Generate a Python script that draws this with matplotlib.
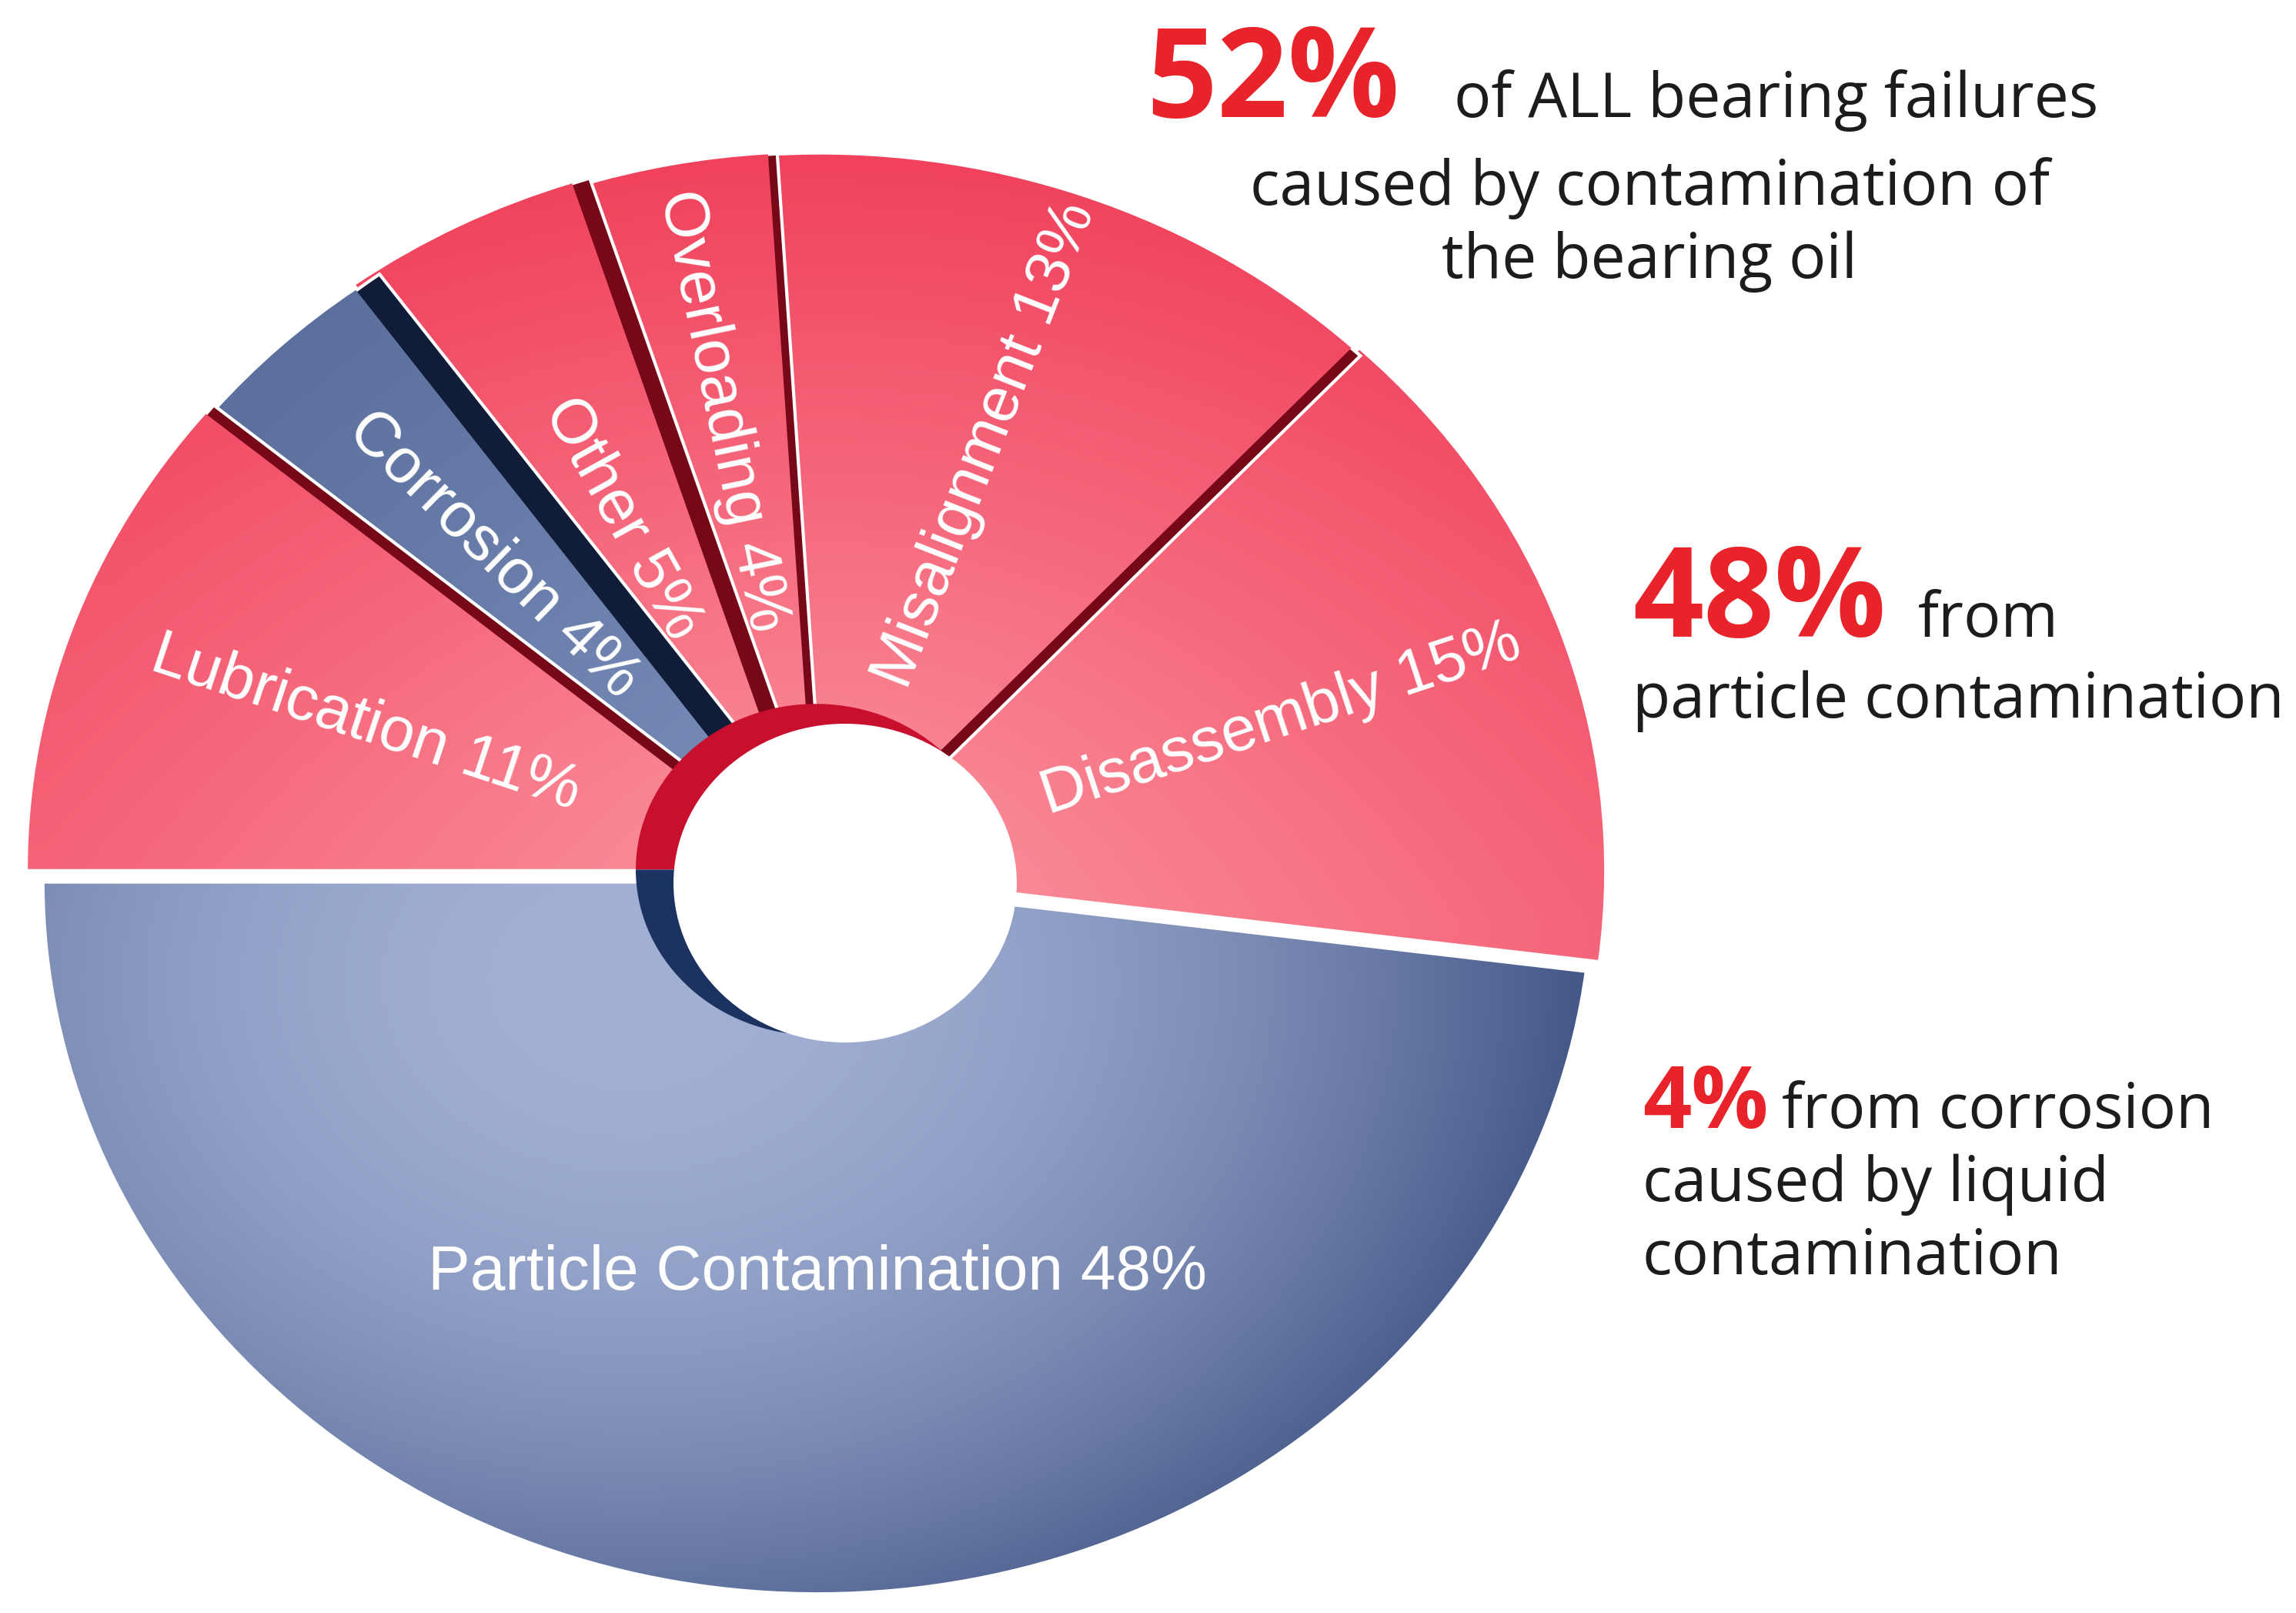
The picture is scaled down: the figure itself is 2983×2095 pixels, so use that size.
import numpy as np
import matplotlib.pyplot as plt
from matplotlib import transforms
from matplotlib.patches import Wedge, Ellipse

# ---- data -------------------------------------------------------------
causes = ['Particle Contamination', 'Disassembly', 'Misalignment',
          'Overloading', 'Other', 'Corrosion', 'Lubrication']
shares = [48, 15, 13, 4, 5, 4, 11]
groups = ['blue', 'red', 'red', 'red', 'red', 'corr', 'red']

# ---- per wedge styling -------------------------------------------------
explode = [10, 14, 8, 10, 18, 12, 20]
side = [0, 0, 16, 12, 24, 38, 16]
label_frac = [0.55, 0.62, 0.63, 0.65, 0.54, 0.60, 0.60]
label_nudge = [3.5, 0, 0, 0, 0, 0, 0]     # degrees
radial = [False, True, True, True, True, True, True]

W, H = 2983, 2095
fig = plt.figure(figsize=(W / 100, H / 100), dpi=100)
ax = fig.add_axes([0, 0, 1, 1])
ax.set_xlim(0, W)
ax.set_ylim(0, H)
ax.axis('off')

cx, cy = 1063, 960
R = 1008
squash = 0.92
tilt = transforms.Affine2D().translate(-cx, -cy).scale(1, squash).translate(cx, cy) + ax.transData


def mix(c0, c1, t):
    c0 = np.array(c0) / 255.0
    c1 = np.array(c1) / 255.0
    return c0 * (1 - t[..., None]) + c1 * t[..., None]


# gradient fills (half resolution is plenty)
gx = np.linspace(0, W, W // 2)
gy = np.linspace(0, H, H // 2)
X, Y = np.meshgrid(gx, gy)
rr = np.clip(np.hypot(X - cx, (Y - cy) / squash) / R, 0, 1)

t_red = np.clip(0.55 * rr + 0.45 * np.clip((Y - 900) / 1100, 0, 1), 0, 1)
t_blue = np.clip(np.hypot(X - 820, (Y - 820) * 1.3) / 1250, 0, 1) ** 2
images = {
    'red': mix((251, 150, 160), (240, 62, 90), t_red),
    'blue': mix((162, 176, 212), (66, 86, 134), t_blue),
    'corr': mix((124, 144, 188), (92, 112, 158), rr),
}
side_color = {'red': '#760818', 'blue': '#14213f', 'corr': '#101c38'}

angle = 180.0
for i, share in enumerate(shares):
    t1 = angle
    t2 = angle + share * 3.6
    angle = t2
    mid = np.radians((t1 + t2) / 2)
    ox = cx + explode[i] * np.cos(mid)
    oy = cy + explode[i] * np.sin(mid)
    z = 2 + 0.1 * i

    if side[i] > 0:
        n = np.radians(t1 - 90)
        sw = Wedge((ox + side[i] * np.cos(n), oy + side[i] * np.sin(n)), R, t1, t2,
                   transform=tilt, facecolor=side_color[groups[i]],
                   edgecolor='white', lw=3, zorder=z)
        ax.add_patch(sw)

    w = Wedge((ox, oy), R, t1, t2, transform=tilt, facecolor='none', lw=0, zorder=z + 0.05)
    ax.add_patch(w)
    im = ax.imshow(images[groups[i]], extent=[0, W, 0, H], origin='lower',
                   aspect='auto', zorder=z + 0.05, interpolation='bilinear')
    im.set_clip_path(w)

    if i == 0:
        # white seams along the big slice
        ax.add_patch(Wedge((ox, oy), R, t1, t2, transform=tilt, facecolor='none',
                           edgecolor='white', lw=5, zorder=3))

    # label
    la = mid + np.radians(label_nudge[i])
    lr = label_frac[i] * R + explode[i]
    lx = cx + lr * np.cos(la)
    ly = cy + squash * lr * np.sin(la)
    if radial[i]:
        rot = np.degrees(np.arctan2(squash * np.sin(la), np.cos(la)))
        if np.cos(la) < 0:
            rot -= 180
    else:
        rot = 0
    ax.text(lx, ly, '%s %d%%' % (causes[i], share), color='white',
            family='Liberation Sans', fontsize=59, ha='center', va='center',
            rotation=rot, rotation_mode='anchor', zorder=6)

# inner wall + hole
end_particle = 180 + shares[0] * 3.6
ax.add_patch(Wedge((1060, 966), 234, end_particle - 360, 180, transform=tilt,
                   facecolor='#c8102e', lw=0, zorder=4))
ax.add_patch(Wedge((1060, 966), 234, 180, end_particle, transform=tilt,
                   facecolor='#1c3260', lw=0, zorder=4))
ax.add_patch(Ellipse((1098, 948), 446, 414, facecolor='white', lw=0, zorder=5))

# ---- side notes --------------------------------------------------------
red = '#e8232a'
ink = '#1c1c1c'
note = dict(family='Open Sans', fontsize=58, color=ink, va='baseline')
big = dict(family='Open Sans', fontweight='bold', color=red, va='baseline')

ax.text(1489, 1943, '52%', fontsize=116, **big)
ax.text(1889, 1943, 'of ALL bearing failures', ha='left', **note)
ax.text(2143, 1829, 'caused by contamination of', ha='center', **note)
ax.text(2143, 1734, 'the bearing oil', ha='center', **note)

ax.text(2121, 1268, '48%', fontsize=116, **big)
ax.text(2492, 1268, 'from', ha='left', **note)
ax.text(2121, 1163, 'particle contamination', ha='left', **note)

ax.text(2134, 630, '4%', fontsize=80, **big)
ax.text(2315, 630, 'from corrosion', ha='left', **note)
ax.text(2134, 535, 'caused by liquid', ha='left', **note)
ax.text(2134, 440, 'contamination', ha='left', **note)

fig.savefig('out.png', dpi=100, facecolor='white')
